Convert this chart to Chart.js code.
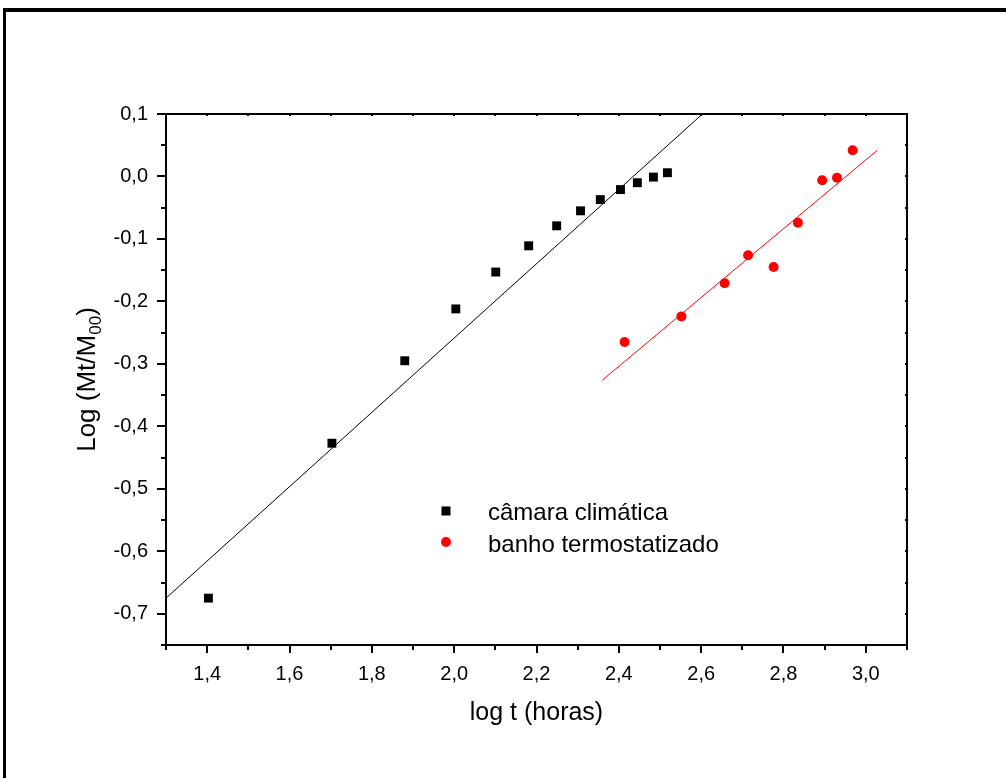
<!DOCTYPE html>
<html>
<head>
<meta charset="utf-8">
<script src="https://cdn.jsdelivr.net/npm/chart.js@4/dist/chart.umd.min.js"></script>
<style>
  html, body { margin: 0; padding: 0; background: #fff; }
  #wrap { position: relative; width: 1006px; height: 778px; overflow: hidden; }
  #frame { position: absolute; left: 3px; top: 8px; right: -10px; bottom: -10px;
           border-top: 4px solid #000; border-left: 3px solid #000; pointer-events: none; }
  canvas { position: absolute; left: 0; top: 0; }
</style>
</head>
<body>
<div id="wrap">
  <canvas id="chart" width="1006" height="778"></canvas>
  <div id="frame"></div>
</div>
<script>
const FONT = "'Liberation Sans', Arial, Helvetica, sans-serif";

// câmara climática (black squares)
const camaraX = [1.403, 1.703, 1.880, 2.004, 2.101, 2.181, 2.249, 2.307, 2.355, 2.404, 2.445, 2.484, 2.518];
const camaraY = [-0.675, -0.427, -0.295, -0.212, -0.153, -0.111, -0.079, -0.055, -0.037, -0.021, -0.010, -0.001, 0.006];
// banho termostatizado (red circles)
const banhoX = [2.414, 2.552, 2.657, 2.714, 2.776, 2.835, 2.894, 2.930, 2.968];
const banhoY = [-0.265, -0.224, -0.171, -0.126, -0.145, -0.074, -0.006, -0.002, 0.042];
// fitted lines (end points)
const fitCamaraX = [1.3, 2.603];
const fitCamaraY = [-0.675, 0.1];
const fitBanhoX = [2.360, 3.028];
const fitBanhoY = [-0.326, 0.042];

const seriesNames = ["câmara climática", "banho termostatizado"];
const xTitle = "log t (horas)";
const yTitle = ["Log (Mt/M", "00", ")"];

const pts = (xs, ys) => xs.map((x, i) => ({ x, y: ys[i] }));
const fmt = (v) => (Math.round(v * 10) / 10).toFixed(1).replace(".", ",");

const decor = {
  id: "decor",
  afterDraw(chart) {
    const { ctx, chartArea: a, scales } = chart;
    const xs = scales.x, ys = scales.y;
    ctx.save();
    ctx.strokeStyle = "#000";
    ctx.lineWidth = 2;
    // top and right axis lines
    ctx.beginPath();
    ctx.moveTo(a.left, a.top); ctx.lineTo(a.right, a.top); ctx.lineTo(a.right, a.bottom);
    ctx.stroke();

    // ticks
    ctx.beginPath();
    xs.ticks.forEach((t) => {
      const px = Math.round(xs.getPixelForValue(t.value));
      const major = Math.round(t.value * 10) % 2 === 0;
      ctx.moveTo(px, a.bottom); ctx.lineTo(px, a.bottom + (major ? 8 : 5));
      ctx.moveTo(px, a.top); ctx.lineTo(px, a.top + 2);
    });
    ys.ticks.forEach((t) => {
      const py = Math.round(ys.getPixelForValue(t.value));
      const major = Math.abs(Math.round(t.value * 20)) % 2 === 0;
      ctx.moveTo(a.left, py); ctx.lineTo(a.left - (major ? 9 : 5), py);
      ctx.moveTo(a.right, py); ctx.lineTo(a.right - 2, py);
    });
    ctx.stroke();

    // x title
    ctx.fillStyle = "#000";
    ctx.font = `25px ${FONT}`;
    ctx.textAlign = "center";
    ctx.textBaseline = "middle";
    ctx.fillText(xTitle, (a.left + a.right) / 2, 713);

    // y title with subscript
    ctx.save();
    ctx.translate(86, (a.top + a.bottom) / 2);
    ctx.rotate(-Math.PI / 2);
    const big = `26px ${FONT}`, small = `17px ${FONT}`;
    ctx.font = big; const w1 = ctx.measureText(yTitle[0]).width; const w3 = ctx.measureText(yTitle[2]).width;
    ctx.font = small; const w2 = ctx.measureText(yTitle[1]).width;
    let x0 = -(w1 + w2 + w3) / 2;
    ctx.textAlign = "left";
    ctx.textBaseline = "alphabetic";
    ctx.font = big; ctx.fillText(yTitle[0], x0, 9);
    ctx.font = small; ctx.fillText(yTitle[1], x0 + w1, 15);
    ctx.font = big; ctx.fillText(yTitle[2], x0 + w1 + w2, 9);
    ctx.restore();

    // legend
    const lx = 446, ly1 = 511, ly2 = 542;
    ctx.fillStyle = "#000";
    ctx.fillRect(lx - 4.5, ly1 - 4.5, 9, 9);
    ctx.fillStyle = "#ff0000";
    ctx.beginPath(); ctx.arc(lx, ly2, 5, 0, Math.PI * 2); ctx.fill();
    ctx.fillStyle = "#000";
    ctx.font = `24px ${FONT}`;
    ctx.textAlign = "left";
    ctx.textBaseline = "middle";
    ctx.fillText(seriesNames[0], 488, ly1 + 2);
    ctx.fillText(seriesNames[1], 488, ly2 + 3);
    ctx.restore();
  },
};

new Chart(document.getElementById("chart"), {
  type: "scatter",
  data: {
    datasets: [
      {
        label: seriesNames[0],
        data: pts(camaraX, camaraY),
        pointStyle: "rect",
        pointRadius: 6.3,
        backgroundColor: "#000",
        borderColor: "#000",
        borderWidth: 0,
      },
      {
        label: seriesNames[1],
        data: pts(banhoX, banhoY),
        pointStyle: "circle",
        pointRadius: 5,
        backgroundColor: "#ff0000",
        borderColor: "#ff0000",
        borderWidth: 0,
      },
      {
        data: pts(fitCamaraX, fitCamaraY),
        showLine: true,
        pointRadius: 0,
        borderColor: "#000",
        borderWidth: 1,
      },
      {
        data: pts(fitBanhoX, fitBanhoY),
        showLine: true,
        pointRadius: 0,
        borderColor: "#ff0000",
        borderWidth: 1,
      },
    ],
  },
  options: {
    responsive: false,
    animation: false,
    devicePixelRatio: 1,
    layout: { padding: { top: 114, right: 99, left: 0, bottom: 0 } },
    plugins: { legend: { display: false }, tooltip: { enabled: false } },
    scales: {
      x: {
        type: "linear",
        min: 1.3,
        max: 3.1,
        afterFit: (s) => { s.height = 133; },
        border: { display: true, color: "#000", width: 2 },
        grid: { drawOnChartArea: false, drawTicks: false },
        ticks: {
          stepSize: 0.1,
          autoSkip: false,
          maxRotation: 0,
          padding: 17,
          color: "#000",
          font: { family: FONT, size: 20 },
          callback: (v) => (Math.round(v * 10) % 2 === 0 ? fmt(v) : ""),
        },
      },
      y: {
        type: "linear",
        min: -0.75,
        max: 0.1,
        afterFit: (s) => { s.width = 166; },
        border: { display: true, color: "#000", width: 2 },
        grid: { drawOnChartArea: false, drawTicks: false },
        ticks: {
          stepSize: 0.05,
          autoSkip: false,
          padding: 18,
          color: "#000",
          font: { family: FONT, size: 20 },
          callback: (v) => (Math.abs(Math.round(v * 20)) % 2 === 0 ? fmt(v) : ""),
        },
      },
    },
  },
  plugins: [decor],
});
</script>
</body>
</html>
